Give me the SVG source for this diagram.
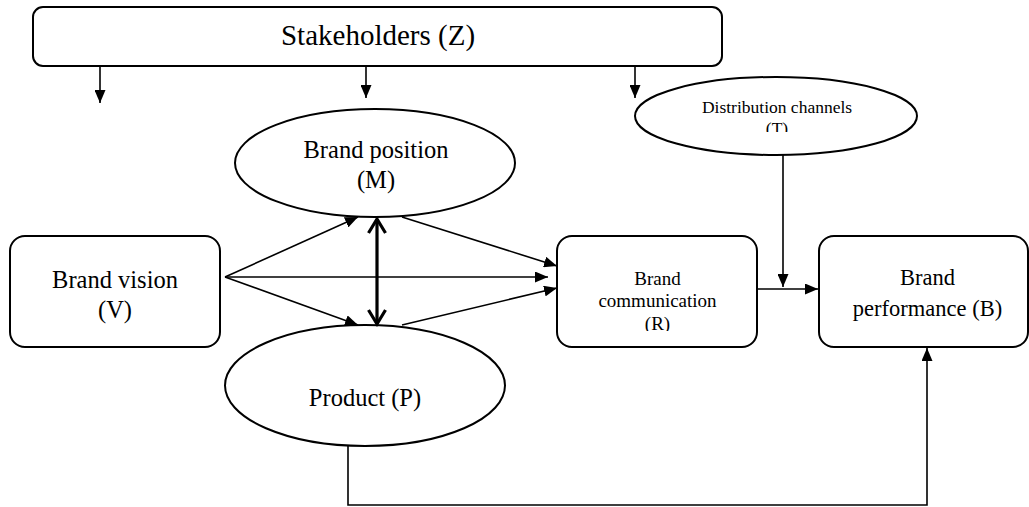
<svg xmlns="http://www.w3.org/2000/svg" width="1029" height="507" viewBox="0 0 1029 507">
<style>
.box{fill:#fff;stroke:#000;stroke-width:2}
.t{font-family:'Liberation Serif','DejaVu Serif',serif;fill:#000;text-anchor:middle}
.c{fill:none;stroke:#000;stroke-width:1.6}
</style>
<defs>
<marker id="ah" markerUnits="userSpaceOnUse" markerWidth="13" markerHeight="11" refX="13" refY="5.5" orient="auto">
<path d="M0,0 L13,5.5 L0,11 z" fill="#000"/>
</marker>
<clipPath id="clipT"><rect x="600" y="70" width="340" height="62"/></clipPath>
<clipPath id="clipR"><rect x="557" y="236" width="200" height="95"/></clipPath>
</defs>
<rect width="1029" height="507" fill="#fff"/>

<g id="stakeholders">
<rect class="box" x="33" y="7" width="689" height="59" rx="10"/>
<text class="t" x="378" y="45" font-size="29" font-family="Liberation Serif, DejaVu Serif, serif">Stakeholders (Z)</text>
</g>

<g id="distribution">
<ellipse class="box" cx="776" cy="116" rx="141" ry="39"/>
<g clip-path="url(#clipT)">
<text class="t" x="777" y="113" font-size="17.5">Distribution channels</text>
<text class="t" x="777" y="134" font-size="17.5">(T)</text>
</g>
</g>

<g id="position">
<ellipse class="box" cx="375" cy="163" rx="140" ry="54"/>
<text class="t" x="376" y="158" font-size="24.5">Brand position</text>
<text class="t" x="376" y="188" font-size="24.5">(M)</text>
</g>

<g id="product">
<ellipse class="box" cx="365" cy="385.5" rx="140" ry="60.5"/>
<text class="t" x="365" y="406" font-size="24.5">Product (P)</text>
</g>

<g id="vision">
<rect class="box" x="10" y="236" width="210" height="111" rx="15"/>
<text class="t" x="115" y="288" font-size="24.5">Brand vision</text>
<text class="t" x="115" y="318" font-size="24.5">(V)</text>
</g>

<g id="communication">
<rect class="box" x="557" y="236" width="200" height="111" rx="15"/>
<g clip-path="url(#clipR)">
<text class="t" x="657.5" y="285" font-size="19">Brand</text>
<text class="t" x="657.5" y="307" font-size="19">communication</text>
<text class="t" x="657.5" y="330" font-size="19">(R)</text>
</g>
</g>

<g id="performance">
<rect class="box" x="819" y="236" width="209" height="111" rx="15"/>
<text class="t" x="927.5" y="285" font-size="22.5">Brand</text>
<text class="t" x="927.5" y="316" font-size="22.5">performance (B)</text>
</g>

<g id="connectors">
<line class="c" x1="100" y1="66" x2="100" y2="103" marker-end="url(#ah)"/>
<line class="c" x1="366" y1="66" x2="366" y2="98" marker-end="url(#ah)"/>
<line class="c" x1="635" y1="66" x2="635" y2="98" marker-end="url(#ah)"/>
<line class="c" x1="225" y1="277" x2="358" y2="217" marker-end="url(#ah)"/>
<line class="c" x1="225" y1="277" x2="548" y2="277" marker-end="url(#ah)"/>
<line class="c" x1="225" y1="277" x2="358" y2="325" marker-end="url(#ah)"/>
<line class="c" x1="402" y1="217" x2="557" y2="266" marker-end="url(#ah)"/>
<line class="c" x1="402" y1="325" x2="557" y2="288" marker-end="url(#ah)"/>
<line class="c" x1="757" y1="289" x2="818" y2="289" marker-end="url(#ah)"/>
<line class="c" x1="783" y1="155" x2="783" y2="287" marker-end="url(#ah)"/>
<polyline class="c" points="348,446 348,505 927,505 927,348" marker-end="url(#ah)"/>
<line x1="377" y1="219" x2="377" y2="324" stroke="#000" stroke-width="3.2"/>
<polyline points="368.5,233 377,219 385.5,233" fill="none" stroke="#000" stroke-width="3.2"/>
<polyline points="368.5,310 377,324 385.5,310" fill="none" stroke="#000" stroke-width="3.2"/>
</g>
</svg>
